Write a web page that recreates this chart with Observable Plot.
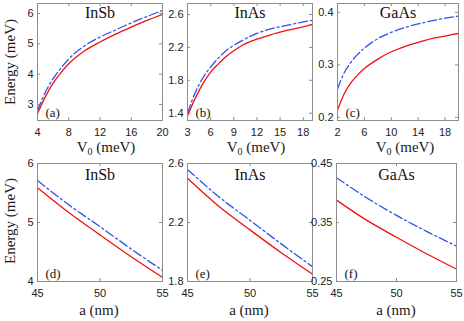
<!DOCTYPE html>
<html><head><meta charset="utf-8">
<script src="https://cdn.jsdelivr.net/npm/d3@7"></script>
<script src="https://cdn.jsdelivr.net/npm/@observablehq/plot@0.6"></script>
<style>
body{margin:0;background:#fff;}
#chart{position:relative;width:464px;height:321px;overflow:hidden;background:#fff;}
.lbl{position:absolute;font-family:"Liberation Serif",serif;color:#1a1a1a;white-space:nowrap;line-height:1;}
.ylab{transform:translate(-50%,-50%) rotate(-90deg);font-size:15px;}
.xlab{transform:translate(-50%,-50%);font-size:15px;}
.xlab sub{font-size:10px;vertical-align:-3px;line-height:0;}
</style></head><body><div id="chart"></div>
<script>
// ---- data ----
const v0A = [4, 5, 6, 7, 8, 10, 12, 14, 16, 18, 20];
const redA = [2.70, 3.25, 3.70, 4.05, 4.34, 4.76, 5.06, 5.32, 5.55, 5.77, 5.97];
const blueA = [2.80, 3.40, 3.85, 4.20, 4.50, 4.93, 5.22, 5.46, 5.69, 5.90, 6.10];

const v0B = [3, 4, 5, 6, 7, 8, 9, 10, 12, 14, 16, 18, 19.2];
const redB = [1.37, 1.58, 1.76, 1.90, 2.00, 2.09, 2.16, 2.22, 2.30, 2.36, 2.41, 2.45, 2.48];
const blueB = [1.40, 1.65, 1.83, 1.96, 2.07, 2.16, 2.225, 2.28, 2.37, 2.43, 2.47, 2.51, 2.53];

const v0C = [2, 3, 4, 5, 6, 8, 10, 12, 14, 16, 18, 20];
const redC = [0.214, 0.245, 0.266, 0.281, 0.293, 0.311, 0.325, 0.335, 0.343, 0.350, 0.355, 0.360];
const blueC = [0.254, 0.285, 0.305, 0.320, 0.332, 0.350, 0.362, 0.371, 0.378, 0.384, 0.389, 0.393];

const aNm = [45, 47.5, 50, 52.5, 55];
const redD = [5.59, 5.17, 4.79, 4.42, 4.07];
const blueD = [5.71, 5.30, 4.93, 4.55, 4.19];
const redE = [2.50, 2.31, 2.15, 1.995, 1.85];
const blueE = [2.56, 2.375, 2.215, 2.055, 1.90];
const redF = [0.388, 0.354, 0.325, 0.297, 0.271];
const blueF = [0.426, 0.392, 0.362, 0.335, 0.310];

const xTicksA = [4, 8, 12, 16, 20];
const xTicksB = [3, 6, 9, 12, 15, 18];
const xTicksC = [2, 6, 10, 14, 18];
const xTicksBottom = [45, 50, 55];
const yTicksA = [3, 4, 5, 6];
const yTicksB = [1.4, 1.8, 2.2, 2.6];
const yTicksC = [0.2, 0.3, 0.4];
const yTicksD = [4, 5, 6];
const yTicksE = [1.8, 2.2, 2.6];
const yTicksF = [0.25, 0.35, 0.45];

const materials = ["InSb", "InAs", "GaAs"];
const panelTags = ["(a)", "(b)", "(c)", "(d)", "(e)", "(f)"];

// ---- layout ----
const panels = [
  {x: v0A, red: redA, blue: blueA, xd: [4, 20], yd: [2.47, 6.33], xt: xTicksA, yt: yTicksA, box: [37, 3, 162, 120], title: materials[0], tag: panelTags[0], tdy: 3},
  {x: v0B, red: redB, blue: blueB, xd: [3, 19.2], yd: [1.311, 2.734], xt: xTicksB, yt: yTicksB, box: [187, 3, 312, 120], title: materials[1], tag: panelTags[1], tdy: 3},
  {x: v0C, red: redC, blue: blueC, xd: [2, 20], yd: [0.194, 0.417], xt: xTicksC, yt: yTicksC, box: [337, 3, 458, 120], title: materials[2], tag: panelTags[2], tdy: 3},
  {x: aNm, red: redD, blue: blueD, xd: [45, 55], yd: [4, 6], xt: xTicksBottom, yt: yTicksD, box: [37, 163, 162, 281], title: materials[0], tag: panelTags[3], tdy: 5},
  {x: aNm, red: redE, blue: blueE, xd: [45, 55], yd: [1.8, 2.6], xt: xTicksBottom, yt: yTicksE, box: [187, 163, 312, 281], title: materials[1], tag: panelTags[4], tdy: 5},
  {x: aNm, red: redF, blue: blueF, xd: [45, 55], yd: [0.25, 0.45], xt: xTicksBottom, yt: yTicksF, box: [336, 163, 456, 281], title: materials[2], tag: panelTags[5], tdy: 5}
];

const chart = document.getElementById("chart");
const frameColor = "#8c8c8c";
const RED = "#f01010", BLUE = "#2e55e6";
const fmt = d => String(d);

for (const p of panels) {
  const [x0, y0, x1, y1] = p.box;
  const pw = x1 - x0, ph = y1 - y0;
  const ml = 42, mr = 8, mt = 4, mb = 22;
  const data = p.x.map((v, i) => ({x: v, r: p.red[i], b: p.blue[i]}));
  const svg = Plot.plot({
    width: pw + ml + mr, height: ph + mt + mb,
    marginLeft: ml, marginRight: mr, marginTop: mt, marginBottom: mb,
    x: {domain: p.xd, ticks: p.xt},
    y: {domain: p.yd, ticks: p.yt},
    style: {background: "transparent", fontFamily: "'Liberation Sans', Arial, sans-serif", fontSize: "11px", color: "#222", overflow: "visible"},
    marks: [
      Plot.axisX({ticks: p.xt, tickSize: 0, tickPadding: 8, label: null, tickFormat: fmt}),
      Plot.axisY({ticks: p.yt, tickSize: 0, tickPadding: 4, label: null, tickFormat: fmt}),
      Plot.tickX(p.xt, {x: d => d, insetTop: ph - 3, stroke: frameColor}),
      Plot.tickX(p.xt, {x: d => d, insetBottom: ph - 3, stroke: frameColor}),
      Plot.tickY(p.yt, {y: d => d, insetRight: pw - 3, stroke: frameColor}),
      Plot.tickY(p.yt, {y: d => d, insetLeft: pw - 3, stroke: frameColor}),
      Plot.line(data, {x: "x", y: "b", stroke: BLUE, strokeWidth: 1.3, strokeDasharray: "9,3,2,3", curve: "monotone-x", clip: true}),
      Plot.line(data, {x: "x", y: "r", stroke: RED, strokeWidth: 1.3, curve: "monotone-x", clip: true}),
      Plot.frame({stroke: frameColor, strokeWidth: 1}),
      Plot.text([p.title], {text: d => d, frameAnchor: "top", lineAnchor: "top", dy: p.tdy, fontFamily: "'Liberation Serif', serif", fontSize: 16, fill: "#111"}),
      Plot.text([p.tag], {text: d => d, frameAnchor: "bottom-left", textAnchor: "start", lineAnchor: "bottom", dx: 8, dy: -4, fontFamily: "'Liberation Serif', serif", fontSize: 13, fill: "#111"})
    ]
  });
  svg.style.position = "absolute";
  svg.style.left = (x0 - ml) + "px";
  svg.style.top = (y0 - mt) + "px";
  chart.appendChild(svg);
}

// axis titles (HTML text)
function addLabel(html, cls, x, y) {
  const d = document.createElement("div");
  d.className = "lbl " + cls;
  d.innerHTML = html;
  d.style.left = x + "px";
  d.style.top = y + "px";
  chart.appendChild(d);
}
addLabel("Energy (meV)", "ylab", 10, 62);
addLabel("Energy (meV)", "ylab", 10, 221);
[106, 256, 405].forEach(cx => addLabel("V<sub>0</sub> (meV)", "xlab", cx, 147));
[99, 249, 396].forEach(cx => addLabel("a (nm)", "xlab", cx, 310));
</script></body></html>
